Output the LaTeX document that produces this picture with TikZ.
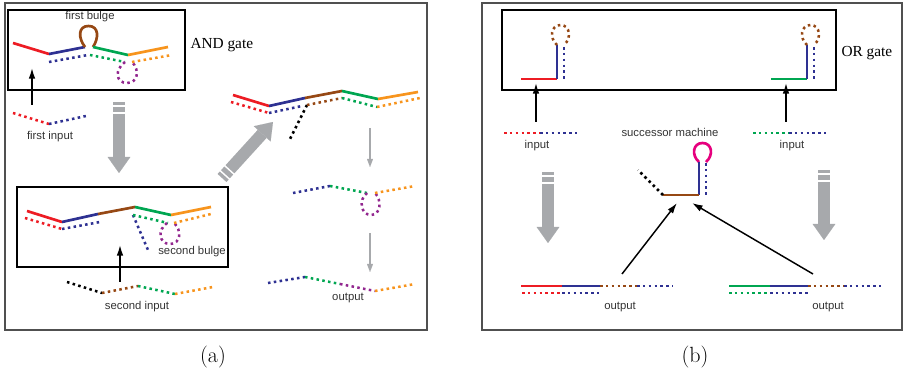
\documentclass[tikz,border=0pt]{standalone}
\usepackage{fontspec}
\newfontfamily\labelfont{Liberation Sans}
\newfontfamily\gatefont{Liberation Serif}
\usetikzlibrary{arrows.meta}

\definecolor{sred}{RGB}{237,28,36}
\definecolor{sblue}{RGB}{46,49,146}
\definecolor{sbrown}{RGB}{150,72,20}
\definecolor{sgreen}{RGB}{0,166,81}
\definecolor{sorange}{RGB}{247,148,29}
\definecolor{spurple}{RGB}{146,39,143}
\definecolor{smagenta}{RGB}{230,0,126}
\definecolor{sgray}{RGB}{167,169,172}

\tikzset{every picture/.style={line width=0.75pt}}
\tikzset{
  strand/.style={line width=2pt},
  dotstrand/.style={line width=1.9pt, dash pattern=on 1.9pt off 2.5pt},
  lbl/.style={inner sep=0.75pt, font=\labelfont\fontsize{8.5}{10}\selectfont, text=black!80},
  gatelbl/.style={anchor=west, inner sep=0.75pt, font=\gatefont\fontsize{11.5}{13}\selectfont},
  panel/.style={draw={rgb,255:red,80;green,80;blue,80}, line width=1.6pt},
  gatebox/.style={draw=black, line width=0.9pt},
  pusharr/.style={-{Latex[length=8pt,width=5pt]}, line width=1.1pt},
  bigarr/.style={sgray, line width=9pt, dash pattern=on 2.5pt off 1.3pt on 3.75pt off 1.3pt on 400pt off 0pt,
    -{Triangle[width=17pt,length=12pt,line width=0.01pt]}},
  thinarr/.style={sgray, line width=1.6pt, -{Triangle[width=4.5pt,length=6pt,line width=0.01pt]}},
}

\begin{document}
\begin{tikzpicture}[x=0.75pt,y=0.75pt,yscale=-1,xscale=1]
\useasboundingbox (0,0) rectangle (904,381);

%Panels
\draw [panel] (5,3) rectangle (427,330);
\draw [panel] (482,3) rectangle (902,330);

%% ---------------- (a) ----------------
%AND gate box
\draw [gatebox] (8,10) rectangle (185,90);
%gate, upper strand
\draw [strand, sred] (13,43) -- (49,54);
\draw [strand, sblue] (49,54) -- (85,47);
\draw [strand, sbrown] (85,47) .. controls (78,38) and (78,26) .. (88.5,26) .. controls (99,26) and (99,38) .. (93,47);
\draw [strand, sgreen] (93,47) -- (128,55);
\draw [strand, sorange] (128,55) -- (168,47);
%gate, lower strand
\draw [dotstrand, sblue] (49,62) -- (88,55);
\draw [dotstrand, sgreen] (90,55) -- (125,62);
\draw [dotstrand, spurple] (125,62) .. controls (114,70) and (116,83) .. (127,83) .. controls (138,83) and (140,70) .. (132,62);
\draw [dotstrand, sorange] (132,62) -- (172,55);

%first input
\draw [dotstrand, sred] (13,113) -- (49,124);
\draw [dotstrand, sblue] (49,124) -- (86,116);
\coordinate (fin) at (32,105);
\coordinate (fgate) at (32,68);
\draw [pusharr] (fin) -- (fgate);

%big arrow down
\coordinate (da1) at (119,102);
\coordinate (da2) at (119,173);
\draw [bigarr] (da1) -- (da2);

%second gate box
\draw [gatebox] (17,187) rectangle (228,267);
\draw [strand, sred] (27,211) -- (62,222);
\draw [strand, sblue] (62,222) -- (98,214);
\draw [strand, sbrown] (98,214) -- (135,207);
\draw [strand, sgreen] (135,207) -- (171,215);
\draw [strand, sorange] (171,215) -- (211,207);
\draw [dotstrand, sred] (25,218) -- (62,229);
\draw [dotstrand, sblue] (62,229) -- (100,222);
\draw [dotstrand, sblue] (133,215) -- (148,250);
\draw [dotstrand, sgreen] (133,215) -- (168,223);
\draw [dotstrand, spurple] (167,223) .. controls (157,230) and (159,244) .. (170,244) .. controls (181,244) and (182,230) .. (174,223);
\draw [dotstrand, sorange] (174,223) -- (211,214);

%second input
\draw [dotstrand, black] (67,282) -- (102,293);
\draw [dotstrand, sbrown] (102,293) -- (138,286);
\draw [dotstrand, sgreen] (138,286) -- (175,294);
\draw [dotstrand, sorange] (175,294) -- (213,287);
\coordinate (sin) at (120,282);
\coordinate (sgate) at (120,245);
\draw [pusharr] (sin) -- (sgate);

%big arrow up-right
\coordinate (ua1) at (222,178);
\coordinate (ua2) at (273,122);
\draw [bigarr] (ua1) -- (ua2);

%opened complex
\draw [strand, sred] (233,95) -- (269,106);
\draw [strand, sblue] (269,106) -- (305,98);
\draw [strand, sbrown] (305,98) -- (342,91);
\draw [strand, sgreen] (342,91) -- (378,99);
\draw [strand, sorange] (378,99) -- (418,92);
\draw [dotstrand, sred] (231,102) -- (269,113);
\draw [dotstrand, sblue] (269,113) -- (302,106);
\draw [dotstrand, black] (307,105) -- (290,139);
\draw [dotstrand, sbrown] (307,105) -- (342,98);
\draw [dotstrand, sgreen] (342,98) -- (377,107);
\draw [dotstrand, sorange] (377,107) -- (420,98);

%released strand
\coordinate (ta1) at (370,128);
\coordinate (ta2) at (370,167);
\draw [thinarr] (ta1) -- (ta2);
\draw [dotstrand, sblue] (293,193) -- (330,186);
\draw [dotstrand, sgreen] (330,186) -- (367,193);
\draw [dotstrand, spurple] (367,193) .. controls (358,200) and (361,215) .. (371,215) .. controls (381,215) and (382,200) .. (375,193);
\draw [dotstrand, sorange] (375,193) -- (415,186);

%output
\coordinate (tb1) at (370,233);
\coordinate (tb2) at (370,272);
\draw [thinarr] (tb1) -- (tb2);
\draw [dotstrand, sblue] (268,283) -- (305,277);
\draw [dotstrand, sgreen] (305,277) -- (340,284);
\draw [dotstrand, spurple] (340,284) -- (375,291);
\draw [dotstrand, sorange] (375,291) -- (415,284);

% Text Node
\node [lbl] (bulge1) at (90,17) {first bulge};
\node [gatelbl] (andgate) at (189,45) {AND gate};
\node [lbl] (input1) at (50,137) {first input};
\node [lbl] (bulge2) at (192,252) {second bulge};
\node [lbl] (input2) at (137,307) {second input};
\node [lbl] (outa) at (348,298) {output};
\node [inner sep=0.75pt, font=\fontsize{16.5}{18}\selectfont] (capa) at (213,357) {(a)};

%% ---------------- (b) ----------------
%OR gate box
\draw [gatebox] (502,10) rectangle (836,90);
%left gate
\draw [strand, sred] (521,79) -- (557,79);
\draw [strand, sblue] (557,79) -- (557,45);
\draw [dotstrand, sblue] (564,47) -- (564,79);
\draw [dotstrand, sbrown] (557,45) .. controls (549,38) and (551,25) .. (560.5,25) .. controls (570,25) and (572,38) .. (564,45);
%right gate
\draw [strand, sgreen] (771,79) -- (807,79);
\draw [strand, sblue] (807,79) -- (807,45);
\draw [dotstrand, sblue] (814,47) -- (814,79);
\draw [dotstrand, sbrown] (807,45) .. controls (799,38) and (801,25) .. (810.5,25) .. controls (820,25) and (822,38) .. (814,45);

%inputs
\draw [dotstrand, sred] (504,133) -- (540,133);
\draw [dotstrand, sblue] (540,133) -- (577,133);
\coordinate (lin) at (536,122);
\coordinate (lgate) at (536,83);
\draw [pusharr] (lin) -- (lgate);
\draw [dotstrand, sgreen] (753,133) -- (789,133);
\draw [dotstrand, sblue] (789,133) -- (826,133);
\coordinate (rin) at (786,122);
\coordinate (rgate) at (786,83);
\draw [pusharr] (rin) -- (rgate);

%successor machine
\draw [strand, smagenta] (699,162) .. controls (691,155) and (693,143) .. (702.5,143) .. controls (712,143) and (714,155) .. (706,162);
\draw [strand, sblue] (699,162) -- (699,195);
\draw [dotstrand, sblue] (706,163) -- (706,195);
\draw [strand, sbrown] (663,195) -- (699,195);
\draw [dotstrand, black] (663,195) -- (638,170);

%big arrows down
\coordinate (lb1) at (548,172);
\coordinate (lb2) at (548,243);
\draw [bigarr] (lb1) -- (lb2);
\coordinate (rb1) at (824,170);
\coordinate (rb2) at (824,240);
\draw [bigarr] (rb1) -- (rb2);

%outputs
\draw [strand, sred] (521,286) -- (562,286);
\draw [strand, sblue] (562,286) -- (600,286);
\draw [dotstrand, sbrown] (600,286) -- (637,286);
\draw [dotstrand, sblue] (637,286) -- (673,286);
\draw [dotstrand, sred] (522,293) -- (562,293);
\draw [dotstrand, sblue] (562,293) -- (599,293);
\draw [strand, sgreen] (729,286) -- (770,286);
\draw [strand, sblue] (770,286) -- (808,286);
\draw [dotstrand, sbrown] (808,286) -- (844,286);
\draw [dotstrand, sblue] (844,286) -- (881,286);
\draw [dotstrand, sgreen] (729,293) -- (770,293);
\draw [dotstrand, sblue] (770,293) -- (808,293);

%back to the machine
\coordinate (lout) at (622,274);
\coordinate (lmach) at (677,203);
\draw [pusharr] (lout) -- (lmach);
\coordinate (rout) at (813,274);
\coordinate (rmach) at (692,203);
\draw [pusharr] (rout) -- (rmach);

% Text Node
\node [gatelbl] (orgate) at (840,53) {OR gate};
\node [lbl] (linput) at (537,146) {input};
\node [lbl] (rinput) at (792,146) {input};
\node [lbl] (succ) at (670,132) {successor machine};
\node [lbl] (loutput) at (620,307) {output};
\node [lbl] (routput) at (828,307) {output};
\node [inner sep=0.75pt, font=\fontsize{16.5}{18}\selectfont] (capb) at (695,357) {(b)};

\end{tikzpicture}
\end{document}
